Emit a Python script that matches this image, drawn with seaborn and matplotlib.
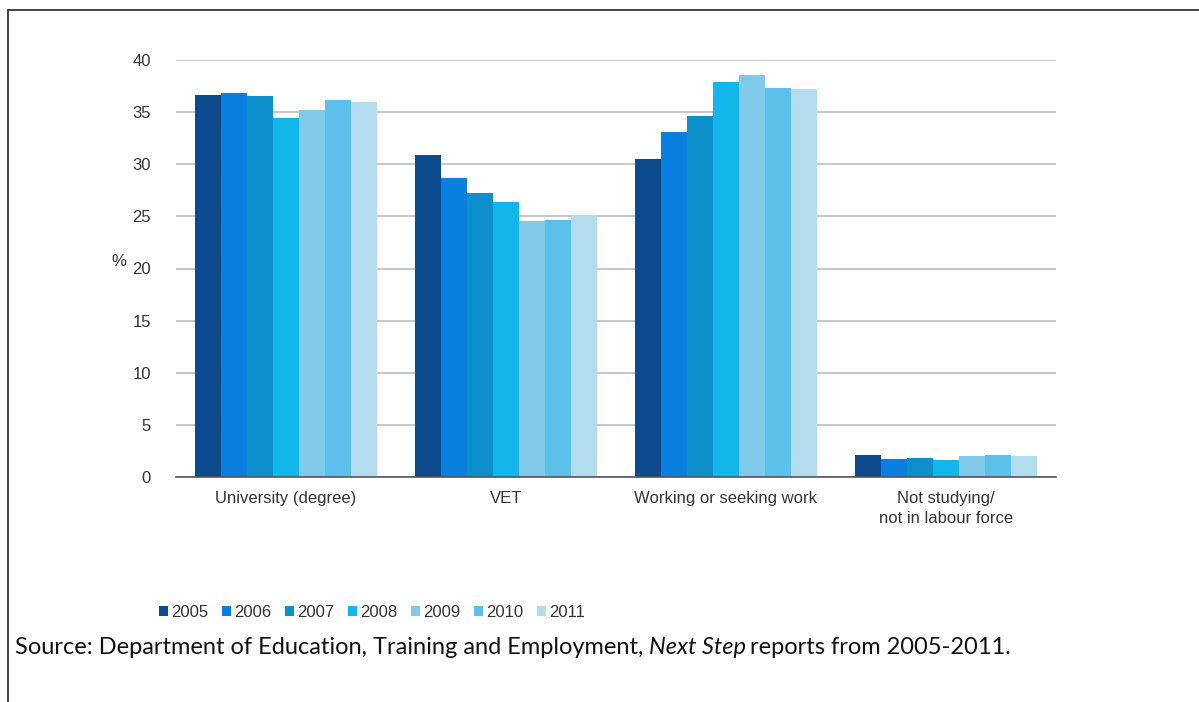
import matplotlib
matplotlib.use("Agg")
import matplotlib.pyplot as plt
from matplotlib.lines import Line2D
import seaborn as sns
import pandas as pd

categories = ["University (degree)", "VET", "Working or seeking work", "Not studying/\nnot in labour force"]
years = ["2005", "2006", "2007", "2008", "2009", "2010", "2011"]
values = {
    "2005": [36.6, 30.9, 30.5, 2.1],
    "2006": [36.8, 28.7, 33.1, 1.7],
    "2007": [36.5, 27.2, 34.6, 1.8],
    "2008": [34.4, 26.4, 37.9, 1.6],
    "2009": [35.2, 24.6, 38.6, 2.0],
    "2010": [36.2, 24.7, 37.3, 2.1],
    "2011": [36.0, 25.1, 37.2, 2.0],
}
colors = ["#0b4a8c", "#0a7fe0", "#0d8fcb", "#12b6ea", "#80c9e8", "#5cc1ea", "#b3dcef"]
source_parts = ["Source: Department of Education, Training and Employment, ", "Next Step", "reports from 2005-2011."]

rows = []
for y in years:
    for c, v in zip(categories, values[y]):
        rows.append({"category": c, "year": y, "value": v})
df = pd.DataFrame(rows)

sns.set_theme(style="white")
plt.rcParams["font.family"] = ["Liberation Sans", "DejaVu Sans"]

fig = plt.figure(figsize=(11.99, 7.02), dpi=100)
ax = fig.add_axes([176/1199, 1-477/702, 880/1199, 417/702])

sns.barplot(data=df, x="category", y="value", hue="year", order=categories,
            hue_order=years, palette=colors, width=0.83, saturation=1,
            edgecolor="none", linewidth=0, ax=ax, legend=True)

fs = 12
ax.set_ylim(0, 40)
ax.set_xlim(-0.5, 3.5)
ax.set_yticks(range(0, 41, 5))
ax.yaxis.grid(True, color="#bdbdbd", linewidth=1.2)
ax.set_axisbelow(True)
for s in ["top", "right", "left"]:
    ax.spines[s].set_visible(False)
ax.spines["bottom"].set_color("#555555")
ax.spines["bottom"].set_linewidth(1.2)
ax.tick_params(axis="y", length=0, labelsize=fs, labelcolor="#333333", pad=18)
ax.tick_params(axis="x", which="major", length=0, labelsize=fs, labelcolor="#333333", pad=10)
for lbl in ax.get_xticklabels():
    lbl.set_linespacing(1.45)
ax.set_xticks([-0.5, 0.5, 1.5, 2.5, 3.5], minor=True)
ax.tick_params(axis="x", which="minor", length=5, width=1.2, color="#555555", direction="out")
ax.set_xlabel("")
ax.set_ylabel("%", rotation=0, fontsize=fs, color="#333333")
ax.yaxis.set_label_coords(-0.065, 0.5)

leg = ax.legend(loc="upper left", bbox_to_anchor=(152/1199, 1-598/702), bbox_transform=fig.transFigure,
                ncol=7, frameon=False, fontsize=fs, handlelength=0.55, handleheight=0.55,
                handletextpad=0.2, columnspacing=0.8, borderaxespad=0)
for t in leg.get_texts():
    t.set_color("#333333")

fig.add_artist(Line2D([8/1199, 1], [1-10/702, 1-10/702], color="#222222", linewidth=1.2, transform=fig.transFigure))
fig.add_artist(Line2D([8/1199, 8/1199], [1-10/702, 0], color="#222222", linewidth=1.2, transform=fig.transFigure))

# source text with italic part
src_fs = 17
fig.canvas.draw()
r = fig.canvas.get_renderer()
x = 15 / 1199
ypos = 1 - 648 / 702
styles = ["normal", "italic", "normal"]
gaps = [0, 4, 0]
for part, st, gap in zip(source_parts, styles, gaps):
    t = fig.text(x, ypos, part, fontsize=src_fs, family=["Lato", "DejaVu Sans"], style=st,
                 va="center", color="#111111")
    bb = t.get_window_extent(r)
    x = bb.x1 / 1199 + gap / 1199

fig.savefig("out.png", dpi=100)
